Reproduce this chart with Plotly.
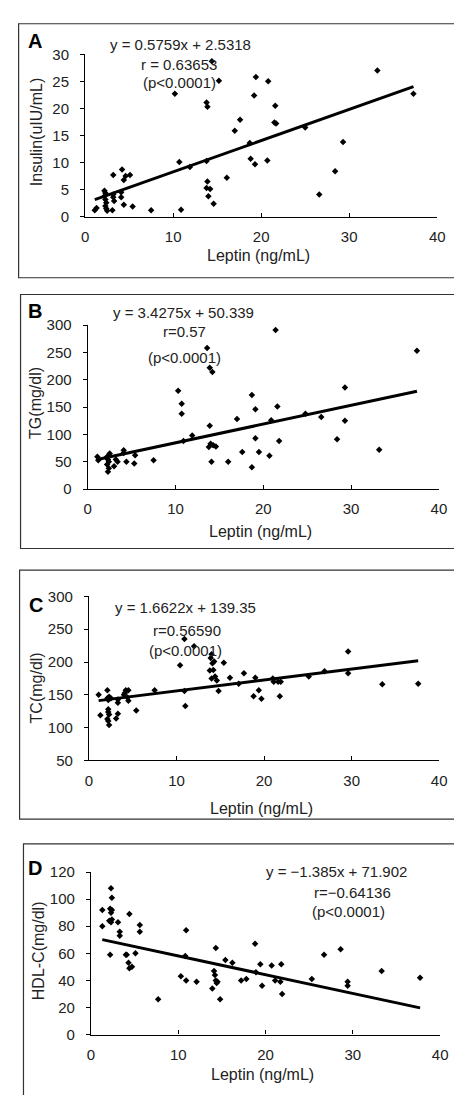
import plotly.graph_objects as go

W, H = 454, 1095

# ---------------- data ----------------
A_x = [1.1, 1.3, 2.2, 2.3, 2.2, 2.3, 2.4, 2.3, 2.4, 2.5, 3.2, 3.2, 3.2, 3.3, 3.1, 4.2, 4.4, 4.6, 5.1,
       4.1, 4.1, 4.4, 5.4, 7.5, 10.2, 10.7, 10.9, 11.9, 13.8, 13.8, 13.9, 13.9, 13.8, 14.2, 14.0, 14.6,
       15.2, 14.4, 16.1, 17.0, 17.6, 18.7, 18.8, 19.3, 19.2, 19.4, 20.7, 20.8, 21.6, 21.5, 21.7, 25.0,
       26.6, 28.4, 29.3, 33.2, 37.3]
A_y = [1.2, 1.6, 4.8, 4.4, 3.8, 3.2, 2.6, 2.0, 1.5, 1.1, 7.7, 4.1, 3.6, 2.9, 1.2, 8.7, 6.8, 7.5, 7.7,
       4.5, 3.6, 2.2, 1.9, 1.2, 22.7, 10.1, 1.3, 9.2, 10.3, 21.1, 20.3, 6.5, 5.3, 5.1, 3.8, 2.4,
       25.1, 28.7, 7.2, 15.9, 17.9, 13.6, 10.7, 9.7, 22.4, 25.8, 10.4, 25.0, 20.5, 17.4, 17.2, 16.5,
       4.1, 8.4, 13.8, 27.0, 22.7]

B_x = [1.1, 1.2, 2.2, 2.3, 2.4, 2.2, 2.4, 2.3, 2.5, 3.0, 3.2, 3.4, 4.1, 4.1, 4.4, 5.4, 5.3, 7.5,
       10.3, 10.7, 10.7, 10.9, 11.9, 13.6, 13.9, 14.2, 13.9, 13.8, 14.0, 14.3, 14.6, 14.1,
       16.0, 17.0, 17.6, 18.7, 18.7, 19.1, 19.1, 19.5, 20.7, 20.9, 21.4, 21.6, 21.8,
       24.8, 26.6, 28.4, 29.3, 29.3, 33.2, 37.5]
B_y = [59, 53, 59, 54, 50, 45, 38, 32, 65, 42, 54, 50, 71, 66, 50, 62, 47, 53,
       180, 156, 138, 88, 98, 258, 222, 214, 116, 77, 83, 80, 78, 50,
       50, 128, 68, 172, 40, 146, 93, 68, 61, 126, 291, 151, 88,
       138, 132, 91, 186, 125, 72, 253]

C_x = [1.1, 1.3, 2.1, 2.1, 2.2, 2.3, 2.5, 2.2, 2.2, 2.3, 2.1, 2.3, 2.2, 3.3, 3.3, 3.3, 3.1,
       4.0, 4.2, 4.5, 4.4, 4.5, 4.1, 5.4, 7.5, 10.4, 10.9, 10.9, 11.0, 12.0,
       13.9, 14.0, 14.1, 13.8, 14.2, 14.4, 14.0, 14.3, 14.6, 14.8,
       15.4, 16.1, 17.1, 17.7, 18.8, 19.0, 19.4, 19.7, 21.0, 21.1, 21.6, 21.9, 21.8,
       25.1, 26.9, 29.6, 29.6, 33.5, 37.6]
C_y = [150, 119, 157, 145, 142, 147, 145, 128, 124, 120, 113, 104, 110, 143, 138, 121, 114,
       150, 157, 157, 146, 141, 153, 126, 157, 195, 235, 156, 133, 224,
       206, 212, 198, 187, 188, 178, 175, 201, 172, 156,
       199, 176, 167, 183, 148, 176, 157, 144, 175, 170, 170, 170, 148,
       178, 186, 216, 183, 166, 167]

D_x = [1.3, 1.3, 2.3, 2.4, 2.2, 2.4, 2.3, 2.1, 2.3, 2.4, 2.2, 3.1, 3.3, 3.3, 4.0, 4.1, 4.3, 4.4,
       4.4, 4.7, 5.1, 5.6, 5.6, 7.7, 10.3, 10.8, 10.9, 10.9, 12.1, 13.9,
       14.1, 14.2, 14.3, 14.4, 14.5, 14.3, 14.8,
       15.4, 16.2, 17.2, 17.8, 18.8, 18.9, 19.4, 19.6, 20.7, 21.1, 21.7, 21.8, 21.9,
       25.3, 26.7, 28.6, 29.4, 29.4, 33.3, 37.7]
D_y = [92, 80, 108, 101, 93, 92, 90, 84, 83, 85, 59, 83, 76, 73, 59, 59, 53, 89,
       49, 50, 60, 81, 76, 26, 43, 58, 40, 77, 39, 34,
       47, 44, 40, 38, 39, 64, 26,
       55, 53, 40, 41, 67, 46, 52, 36, 51, 40, 39, 52, 30,
       41, 59, 63, 39, 36, 47, 42]

panel_letters = ["A", "B", "C", "D"]
y_titles = ["Insulin(uIU/mL)", "TG(mg/dl)", "TC(mg/dl)", "HDL-C(mg/dl)"]
x_title = "Leptin (ng/mL)"
slopes = [0.5759, 3.4275, 1.6622, -1.385]
intercepts = [2.5318, 50.339, 139.35, 71.902]
eq_texts = ["y = 0.5759x + 2.5318", "y = 3.4275x + 50.339", "y = 1.6622x + 139.35", "y = \u22121.385x + 71.902"]
r_texts = ["r = 0.63653", "r=0.57", "r=0.56590", "r=\u22120.64136"]
p_texts = ["(p<0.0001)", "(p<0.0001)", "(p<0.0001)", "(p<0.0001)"]
y_ranges = [[0, 30], [0, 300], [50, 300], [0, 120]]
y_dticks = [5, 50, 50, 20]
x_range = [0, 40]
x_dtick = 10

xs = [A_x, B_x, C_x, D_x]
ys = [A_y, B_y, C_y, D_y]

# ---------------- layout geometry (pixels) ----------------
def px(x):
    return x / W

def py(y):
    return 1 - y / H

# plot area per panel: (x0, x40, ybottom, ytop)
areas = [(83.3, 445, 211, 46), (86, 446.7, 487.7, 321), (87.3, 447, 763.3, 596.7), (89.3, 448, 1041.7, 876.7)]
frames = [(15, 273, 15), (17, 548, 290), (16, 823, 570), (20, 1110, 848)]  # left, bottom, top
letter_pos = [(32, 33), (32, 307), (33, 605), (32, 873)]
ytitle_pos = [(33, 125), (33, 400), (33, 690), (35, 957)]
xtitle_y = [250, 531, 812, 1082]
text_pos = [
    [(181, 36), (180, 56), (180, 75)],
    [(184, 308), (185, 328), (185, 354)],
    [(186, 608), (188, 631), (186, 652)],
    [(342, 876), (358, 897), (354, 917)],
]

FONT = "Liberation Sans, Arial, sans-serif"
fig = go.Figure()
annotations = []
shapes = []


def ann(text, x, y, size, angle=0, color="#222"):
    return dict(text=text, x=px(x), y=py(y), xref="paper", yref="paper", showarrow=False,
                xanchor="center", yanchor="middle", textangle=angle,
                font=dict(family=FONT, size=size, color=color))


for i in range(4):
    n = "" if i == 0 else str(i + 1)
    xa, ya = "x" + n, "y" + n
    fig.add_trace(go.Scatter(x=xs[i], y=ys[i], mode="markers", xaxis=xa, yaxis=ya,
                             marker=dict(symbol="diamond", size=5, color="black"),
                             showlegend=False, hoverinfo="x+y"))
    lx = [min(xs[i]), max(xs[i])]
    ly = [slopes[i] * v + intercepts[i] for v in lx]
    fig.add_trace(go.Scatter(x=lx, y=ly, mode="lines", xaxis=xa, yaxis=ya,
                             line=dict(color="black", width=3), showlegend=False, hoverinfo="skip"))
    x0, x1, yb, yt = areas[i]
    axis_common = dict(showline=True, linecolor="black", linewidth=1.2, showgrid=False,
                       zeroline=False, tickfont=dict(family=FONT, size=15, color="#222"))
    fig.layout["xaxis" + n] = dict(domain=[px(x0), px(x1)], range=x_range, dtick=x_dtick,
                                   anchor=ya, ticks="inside", ticklen=4, tickcolor="black",
                                   ticklabelstandoff=6, **axis_common)
    fig.layout["yaxis" + n] = dict(domain=[py(yb), py(yt)], range=y_ranges[i], dtick=y_dticks[i],
                                   anchor=xa, ticks="outside", ticklen=4, tickcolor="black",
                                   ticklabelstandoff=8, **axis_common)
    # frame
    fl, fb, ft = frames[i]
    shapes.append(dict(type="rect", xref="paper", yref="paper", x0=px(fl), x1=px(W + 20),
                       y0=py(fb), y1=py(ft), line=dict(color="#333", width=1.2), layer="below"))
    lx_, ly_ = letter_pos[i]
    annotations.append(ann("<b>%s</b>" % panel_letters[i], lx_, ly_, 20, color="black"))
    tx, ty = ytitle_pos[i]
    annotations.append(ann(y_titles[i], tx, ty, 16, angle=-90))
    annotations.append(ann(x_title, (x0 + x1) / 2 - 3, xtitle_y[i], 16))
    for t, (ax_, ay_) in zip([eq_texts[i], r_texts[i], p_texts[i]], text_pos[i]):
        annotations.append(ann(t, ax_, ay_, 15))

fig.update_layout(width=W, height=H, margin=dict(l=0, r=0, t=0, b=0),
                  paper_bgcolor="white", plot_bgcolor="white",
                  annotations=annotations, shapes=shapes, showlegend=False)

fig.write_html("out.html", config={"displayModeBar": False},
               post_script="document.body.style.margin='0';document.body.style.overflow='hidden';")
